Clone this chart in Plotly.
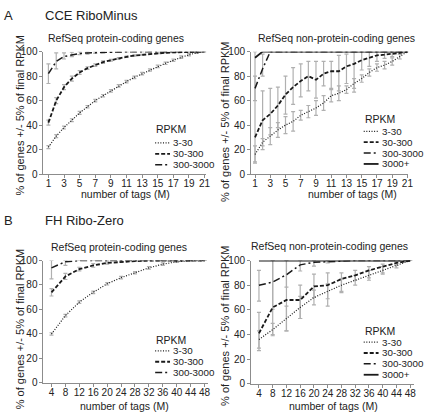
import plotly.graph_objects as go

# ---------------- data ----------------
series_names = ["3-30", "30-300", "300-3000", "3000+"]

# Panel A (CCE RiboMinus), x = number of tags (M)
a_x = list(range(1, 22))
a_xticks = [1, 3, 5, 7, 9, 11, 13, 15, 17, 19, 21]

# A: protein-coding
a_pc_330 = [22, 31, 38, 44, 50, 55, 60, 64, 68, 72, 75.5, 79, 82, 85, 88, 90.5, 93, 95.5, 97.5, 99, 100]
a_pc_330_err = [1.2, 1.2, 1.2, 1.2, 1.2, 1, 1, 1, 1, 1, 1, 1, 1, 1, 1, 1, 1, 1, 1, 0.5, 0]
a_pc_30300 = [42, 60, 71, 78, 83, 86.5, 89, 91.5, 93, 94.5, 95.8, 96.8, 97.5, 98.2, 98.7, 99.1, 99.4, 99.6, 99.8, 99.9, 100]
a_pc_30300_err = [2, 2.5, 2, 2, 1.5, 1, 1, 1, 0.8, 0.6, 0.5, 0.5, 0.4, 0.3, 0.3, 0.2, 0.2, 0.1, 0.1, 0.1, 0]
a_pc_3003000 = [82, 92, 96, 97.5, 98.5, 99, 99.3, 99.5, 99.7, 99.8, 99.9, 100, 100, 100, 100, 100, 100, 100, 100, 100, 100]
a_pc_3003000_up = [8, 7, 3, 2, 1.5, 1, 0.7, 0.5, 0.3, 0.2, 0.1, 0, 0, 0, 0, 0, 0, 0, 0, 0, 0]
a_pc_3003000_dn = [8, 6, 2, 1.5, 1, 1, 0.7, 0.5, 0.3, 0.2, 0.1, 0, 0, 0, 0, 0, 0, 0, 0, 0, 0]

# A: non-protein-coding
a_npc_330 = [16, 26, 31, 36, 40, 43, 48, 51, 54, 58, 64, 66, 69, 74, 78, 83, 87, 89, 92, 96, 100]
a_npc_330_err = [7, 3, 7, 6, 7, 8, 4, 5, 6, 6, 5, 6, 3, 4, 3, 3, 3, 3, 3, 2, 0]
a_npc_30300 = [30, 44, 49, 56, 65, 71, 76, 80, 77, 82, 84, 84, 88, 90, 93, 95, 97, 97.5, 98, 99, 100]
a_npc_30300_up = [70, 24, 21, 15, 15, 16, 14, 12, 15, 10, 8, 13, 10, 10, 7, 5, 3, 2.5, 2, 1, 0]
a_npc_30300_dn = [20, 24, 17, 18, 16, 14, 13, 12, 15, 10, 14, 16, 14, 23, 8, 7, 5, 3, 2, 1, 0]
a_npc_3003000 = [70, 86, 100, 100, 100, 100, 100, 100, 100, 100, 100, 100, 100, 100, 100, 100, 100, 100, 100, 100, 100]
a_npc_3003000_up = [10, 12, 0, 0, 0, 0, 0, 0, 0, 0, 0, 0, 0, 0, 0, 0, 0, 0, 0, 0, 0]
a_npc_3003000_dn = [10, 6, 0, 0, 0, 0, 0, 0, 0, 0, 0, 0, 0, 0, 0, 0, 0, 0, 0, 0, 0]
a_npc_3000p = [95, 100, 100, 100, 100, 100, 100, 100, 100, 100, 100, 100, 100, 100, 100, 100, 100, 100, 100, 100, 100]

# Panel B (FH Ribo-Zero)
b_x = [4, 8, 12, 16, 20, 24, 28, 32, 36, 40, 44, 48]
b_xticks = b_x

# B: protein-coding
b_pc_330 = [40, 55, 66, 74, 81, 86, 90, 94, 97, 99, 100, 100]
b_pc_330_err = [1, 1, 1, 1, 1, 1, 1, 1, 1, 0.5, 0.3, 0]
b_pc_30300 = [74, 87, 93, 96, 98, 99, 99.5, 100, 100, 100, 100, 100]
b_pc_30300_err = [3, 2.5, 1.5, 1.5, 1, 0.5, 0.3, 0, 0, 0, 0, 0]
b_pc_3003000 = [94, 99, 100, 100, 100, 100, 100, 100, 100, 100, 100, 100]
b_pc_3003000_up = [6, 1, 0, 0, 0, 0, 0, 0, 0, 0, 0, 0]
b_pc_3003000_dn = [9, 3, 0, 0, 0, 0, 0, 0, 0, 0, 0, 0]

# B: non-protein-coding
b_npc_330 = [36, 44, 53, 62, 70, 75, 80, 84, 88, 92, 96, 100]
b_npc_330_err = [7, 5, 10, 9, 6, 6, 5, 4, 4, 3, 2, 0]
b_npc_30300 = [41, 62, 68, 68, 79, 80, 85, 88, 92, 95, 98, 100]
b_npc_30300_up = [17, 38, 32, 12, 10, 10, 5, 4, 3, 2, 1.5, 0]
b_npc_30300_dn = [14, 22, 25, 15, 9, 17, 11, 4, 6, 5, 2, 0]
b_npc_3003000 = [80, 82.5, 88.5, 96.5, 98.5, 99, 99.7, 100, 100, 100, 100, 100]
b_npc_3003000_up = [12, 17.5, 11.5, 3.5, 1.5, 1, 0.3, 0, 0, 0, 0, 0]
b_npc_3003000_dn = [13, 22, 10, 5, 3, 1, 0.5, 0, 0, 0, 0, 0]
b_npc_3000p = [100] * 12

# ---------------- style ----------------
W, H = 430, 420
FONT = "Liberation Sans, Arial, sans-serif"
INK = "#1a1a1a"
AXC = "#8c8c8c"
ERRC = "#b0b0b0"
styles = {
    "3-30": dict(dash="1px,1.6px", width=1.2),
    "30-300": dict(dash="4px,2px", width=1.8),
    "300-3000": dict(dash="7px,3px,2px,3px", width=1.5),
    "3000+": dict(dash="solid", width=1.8),
}


def px(x):
    return x / W


def py(y):
    return 1 - y / H


fig = go.Figure()

panels = [
    ("", a_x, [("3-30", a_pc_330, a_pc_330_err, a_pc_330_err),
               ("30-300", a_pc_30300, a_pc_30300_err, a_pc_30300_err),
               ("300-3000", a_pc_3003000, a_pc_3003000_up, a_pc_3003000_dn)]),
    ("2", a_x, [("3-30", a_npc_330, a_npc_330_err, a_npc_330_err),
                ("30-300", a_npc_30300, a_npc_30300_up, a_npc_30300_dn),
                ("300-3000", a_npc_3003000, a_npc_3003000_up, a_npc_3003000_dn),
                ("3000+", a_npc_3000p, None, None)]),
    ("3", b_x, [("3-30", b_pc_330, b_pc_330_err, b_pc_330_err),
                ("30-300", b_pc_30300, b_pc_30300_err, b_pc_30300_err),
                ("300-3000", b_pc_3003000, b_pc_3003000_up, b_pc_3003000_dn)]),
    ("4", b_x, [("3-30", b_npc_330, b_npc_330_err, b_npc_330_err),
                ("30-300", b_npc_30300, b_npc_30300_up, b_npc_30300_dn),
                ("300-3000", b_npc_3003000, b_npc_3003000_up, b_npc_3003000_dn),
                ("3000+", b_npc_3000p, None, None)]),
]

# error bars first (behind lines)
for suf, xs, series in panels:
    for name, ys, up, dn in series:
        if up is None:
            continue
        fig.add_trace(go.Scatter(
            x=xs, y=ys, mode="markers", marker=dict(size=1, color="rgba(0,0,0,0)"),
            error_y=dict(type="data", symmetric=False, array=up, arrayminus=dn,
                         color=ERRC, thickness=1.2, width=2),
            xaxis="x" + suf, yaxis="y" + suf, showlegend=False, hoverinfo="skip",
            cliponaxis=False))
# lines
for suf, xs, series in panels:
    for name, ys, up, dn in series:
        st = styles[name]
        fig.add_trace(go.Scatter(
            x=xs, y=ys, mode="lines", name=name,
            line=dict(color=INK, width=st["width"], dash=st["dash"]),
            xaxis="x" + suf, yaxis="y" + suf, showlegend=False, cliponaxis=False))

# ---------------- axes ----------------
TICKFS = 10
ax_common = dict(showline=True, linecolor=AXC, linewidth=1, ticks="outside", ticklen=3,
                 tickcolor=AXC, showgrid=False, zeroline=False,
                 tickfont=dict(family=FONT, size=TICKFS, color="#222"))

domains = {
    "": dict(x=[px(44), px(208.6)], y=[py(173), py(47)], xr=[0.37, 21.2], ticks=a_xticks),
    "2": dict(x=[px(254), px(413)], y=[py(173), py(47)], xr=[0.48, 21.1], ticks=a_xticks),
    "3": dict(x=[px(44), px(210.5)], y=[py(388), py(262)], xr=[1.7, 49], ticks=b_xticks),
    "4": dict(x=[px(254), px(418.5)], y=[py(389), py(262)], xr=[1.7, 49], ticks=b_xticks),
}
layout_axes = {}
for suf, d in domains.items():
    xa = dict(ax_common)
    xa.update(domain=d["x"], range=d["xr"], tickvals=d["ticks"], ticktext=[str(t) for t in d["ticks"]],
              anchor="y" + suf, ticklabelstandoff=-3)
    ya = dict(ax_common)
    ya.update(domain=d["y"], range=[0, 100], tickvals=[0, 20, 40, 60, 80, 100],
              anchor="x" + suf)
    layout_axes["xaxis" + suf] = xa
    layout_axes["yaxis" + suf] = ya

fig.update_layout(**layout_axes)

# ---------------- text ----------------
ann = []


def text(x, y, s, size=10, xanchor="center", angle=0):
    ann.append(dict(x=px(x), y=py(y), xref="paper", yref="paper", text=s, showarrow=False,
                    xanchor=xanchor, yanchor="middle", textangle=angle, borderpad=0,
                    font=dict(family=FONT, size=size, color="#222")))


text(9, 10, "A", 13)
text(45, 10, "CCE RiboMinus", 13, "left")
text(9, 221, "B", 13)
text(45, 221, "FH Ribo-Zero", 13, "left")

text(117, 33, "RefSeq protein-coding genes", 10.5)
text(340, 33, "RefSeq non-protein-coding genes", 10.5)
text(120, 248, "RefSeq protein-coding genes", 10.5)
text(333, 247, "RefSeq non-protein-coding genes", 10.5)

text(127, 194, "number of tags (M)", 10.5)
text(357, 194, "number of tags (M)", 10.5)
text(126, 412, "number of tags (M)", 10.5)
text(337, 412, "number of tags (M)", 10.5)

text(20, 112, "% of genes +/- 5% of final RPKM", 11, angle=-90)
text(227, 119, "% of genes +/- 5% of final RPKM", 11, angle=-90)
text(20, 332, "% of genes +/- 5% of final RPKM", 11, angle=-90)
text(227, 329, "% of genes +/- 5% of final RPKM", 11, angle=-90)

# legends (RPKM key)
shapes = []
LEG_STEP = 11.2
legends = [
    (157, 127, 141, series_names[:3]),
    (368, 116, 129, series_names),
    (157, 344, 355, series_names[:3]),
    (368, 335, 346, series_names),
]
for lx, ty, y0, names in legends:
    text(lx, ty, "RPKM", 10.5, "left")
    for i, nm in enumerate(names):
        yy = y0 + LEG_STEP * i
        st = styles[nm]
        shapes.append(dict(type="line", xref="paper", yref="paper",
                           x0=px(lx), x1=px(lx + 15), y0=py(yy), y1=py(yy),
                           line=dict(color=INK, width=st["width"], dash=st["dash"])))
        text(lx + 17, yy, nm, 9.8, "left")

fig.update_layout(
    width=W, height=H, margin=dict(l=0, r=0, t=0, b=0),
    paper_bgcolor="white", plot_bgcolor="white",
    annotations=ann, shapes=shapes, showlegend=False,
    font=dict(family=FONT, color="#222"),
)

fig.write_html("out.html", config={"displayModeBar": False},
               post_script="document.body.style.margin='0';document.body.style.overflow='hidden';")
